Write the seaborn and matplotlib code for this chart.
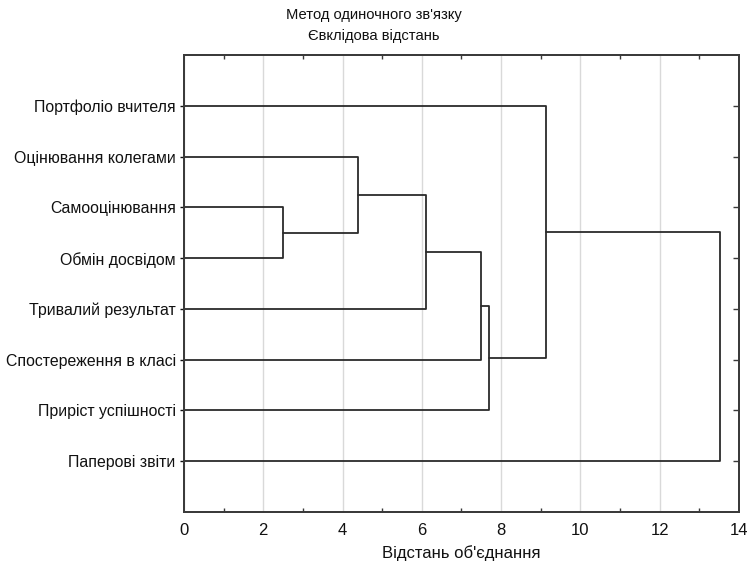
import matplotlib
matplotlib.use("Agg")
import matplotlib.pyplot as plt
import seaborn as sns
import pandas as pd

# leaves in the order shown, top to bottom
labels = ["Портфоліо вчителя", "Оцінювання колегами", "Самооцінювання",
          "Обмін досвідом", "Тривалий результат", "Спостереження в класі",
          "Приріст успішності", "Паперові звіти"]
# merges: new cluster ids start at 8 (scipy style)
merge_left = [2, 1, 9, 10, 11, 0, 13]
merge_right = [3, 8, 4, 5, 6, 12, 7]
merge_dist = [2.49, 4.38, 6.10, 7.50, 7.69, 9.12, 13.51]

sns.set_style("white")
plt.rcParams["font.family"] = ["Liberation Sans", "DejaVu Sans"]
plt.rcParams["text.color"] = "#111111"
plt.rcParams["axes.labelcolor"] = "#111111"

fig = plt.figure(figsize=(7.47, 5.70), dpi=100)
ax = fig.add_axes([0.2463, 0.1018, 0.743, 0.8017])

# build segments for each link
pos = {i: (0.0, i + 1) for i in range(len(labels))}
segs = []
for k, (a, b, d) in enumerate(zip(merge_left, merge_right, merge_dist)):
    xa, ya = pos[a]
    xb, yb = pos[b]
    segs.append(pd.DataFrame({"x": [xa, d, d, xb], "y": [ya, ya, yb, yb], "link": k}))
    pos[len(labels) + k] = (d, (ya + yb) / 2)
df = pd.concat(segs)
for k, g in df.groupby("link"):
    sns.lineplot(data=g, x="x", y="y", sort=False, estimator=None,
                 color="#2b2b2b", lw=1.3, ax=ax)

ax.set_xlim(0, 14)
ax.set_ylim(len(labels) + 1, 0)
ax.set_xticks(range(0, 15, 2))
ax.set_xticks(range(1, 14, 2), minor=True)
ax.set_yticks(range(1, len(labels) + 1))
ax.set_yticklabels(labels)
ax.xaxis.grid(True, color="#d9d9d9", lw=1.0)
ax.set_axisbelow(True)
ax.tick_params(axis="x", which="major", length=0, labelsize=12, pad=8, colors="#111111")
ax.tick_params(axis="x", which="minor", length=3, direction="in", top=True, bottom=True, width=1, colors="#3a3a3a")
ax.tick_params(axis="y", length=3, direction="out", labelsize=11.4, pad=3, width=1, colors="#111111")

# inward ticks on the right edge at each leaf
ax2 = ax.twinx()
ax2.set_ylim(ax.get_ylim())
ax2.set_yticks(ax.get_yticks())
ax2.set_yticklabels([])
ax2.tick_params(axis="y", length=4, direction="in", width=1, colors="#3a3a3a")
ax2.grid(False)

for a_ in (ax, ax2):
    for s in a_.spines.values():
        s.set_color("#3a3a3a")
        s.set_linewidth(1.3)
ax.set_xlabel("Відстань об'єднання", fontsize=12, labelpad=5)
ax.set_ylabel("")
fig.text(0.5, 0.974, "Метод одиночного зв'язку", ha="center", va="center", fontsize=10.6)
fig.text(0.5, 0.936, "Євклідова відстань", ha="center", va="center", fontsize=10.6)

fig.savefig("out.png", dpi=100)
